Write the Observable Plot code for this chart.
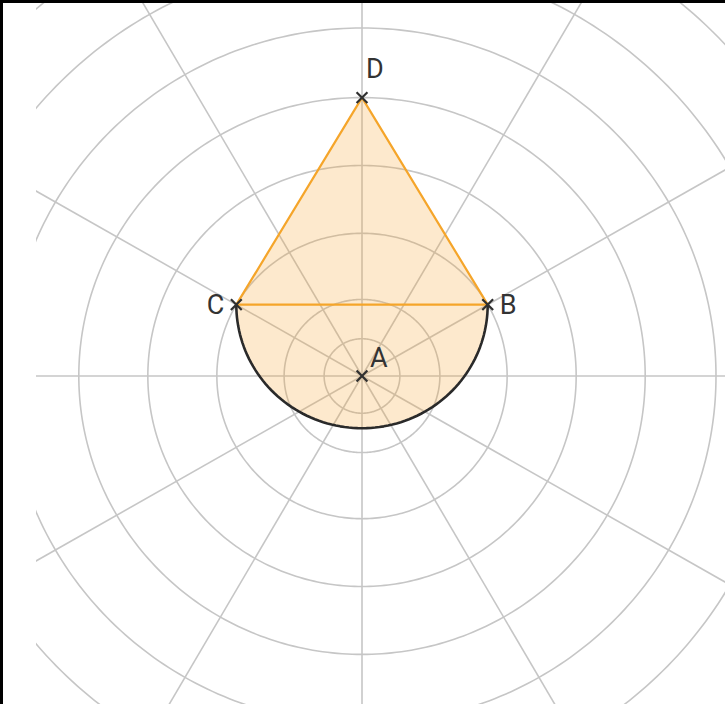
<!DOCTYPE html>
<html><head><meta charset="utf-8">
<script src="https://cdn.jsdelivr.net/npm/d3@7"></script>
<script src="https://cdn.jsdelivr.net/npm/@observablehq/plot@0.6"></script>
<style>
body{margin:0;background:#fff;}
#wrap{position:relative;width:725px;height:704px;overflow:hidden;}
#frame{position:absolute;left:0;top:0;width:725px;height:704px;box-sizing:border-box;border-top:3px solid #000;border-left:3px solid #000;pointer-events:none;}
</style></head><body>
<div id="wrap"><div id="frame"></div></div>
<script>
// polar grid (radii in chart units)
const ringRadii = [1.07, 2.2, 4.1, 6.05, 8, 10, 12, 14, 16];
const spokeAngles = [0, 30, 60, 90, 120, 150, 180, 210, 240, 270, 300, 330];
const spokeLength = 20;

// named points (polar: radius, angle in degrees)
const pointNames = ["A", "B", "C", "D"];
const pointRadius = [0, 4.1, 4.1, 8];
const pointAngle = [0, 30, 150, 90];

const rad = d => d * Math.PI / 180;
const pts = pointNames.map((n, i) => ({
  name: n,
  x: pointRadius[i] * Math.cos(rad(pointAngle[i])),
  y: pointRadius[i] * Math.sin(rad(pointAngle[i]))
}));
const P = Object.fromEntries(pts.map(p => [p.name, p]));

// ring geometry
const ringPts = [];
for (const r of ringRadii) for (let a = 0; a <= 360; a += 1) ringPts.push({ring: r, x: r * Math.cos(rad(a)), y: r * Math.sin(rad(a))});
const spokes = spokeAngles.map(a => ({x1: 0, y1: 0, x2: spokeLength * Math.cos(rad(a)), y2: spokeLength * Math.sin(rad(a))}));

// semicircle on diameter CB (below), triangle CDB above
const mid = {x: (P.B.x + P.C.x) / 2, y: (P.B.y + P.C.y) / 2};
const semiR = (P.B.x - P.C.x) / 2;
const arc = [];
for (let a = 0; a >= -180; a -= 2) arc.push({x: mid.x + semiR * Math.cos(rad(a)), y: mid.y + semiR * Math.sin(rad(a))});
const shape = [P.C, P.D, P.B, ...arc];
const triangle = [P.C, P.D, P.B, P.C];

const labelStyle = {
  A: {dx: 8, dy: -18, textAnchor: "start"},
  B: {dx: 12, dy: 1, textAnchor: "start"},
  C: {dx: -12, dy: 1, textAnchor: "end"},
  D: {dx: 4, dy: -28, textAnchor: "start"}
};

const cx = 361.5, cy = 375.5, W = 725, H = 704, left = 36, kx = 35.4, ky = 34.8;

const chart = Plot.plot({
  width: W, height: H,
  marginLeft: left, marginRight: 0, marginTop: 0, marginBottom: 0,
  x: {domain: [-(cx - left) / kx, (W - cx) / kx], axis: null},
  y: {domain: [-(H - cy) / ky, cy / ky], axis: null},
  style: {background: "transparent"},
  marks: [
    Plot.line(ringPts, {x: "x", y: "y", z: "ring", stroke: "#c6c6c6", strokeWidth: 1.6, clip: true}),
    Plot.link(spokes, {x1: "x1", y1: "y1", x2: "x2", y2: "y2", stroke: "#c6c6c6", strokeWidth: 1.6, clip: true}),
    Plot.line(shape, {x: "x", y: "y", fill: "#f7a530", fillOpacity: 0.24, stroke: "none"}),
    Plot.line(arc, {x: "x", y: "y", stroke: "#2a2a2a", strokeWidth: 2.6}),
    Plot.line(triangle, {x: "x", y: "y", stroke: "#f5a52a", strokeWidth: 2.2}),
    Plot.dot(pts, {x: "x", y: "y", symbol: "times", r: 5, stroke: "#2f2f2f", strokeWidth: 2.2}),
    ...pointNames.map(n => Plot.text([P[n]], {
      x: "x", y: "y", text: "name", fontSize: 27, fill: "#333",
      fontFamily: "Roboto, 'DejaVu Sans', sans-serif",
      lineAnchor: "middle", ...labelStyle[n]
    }))
  ]
});
document.getElementById("wrap").prepend(chart);
</script>
</body></html>
